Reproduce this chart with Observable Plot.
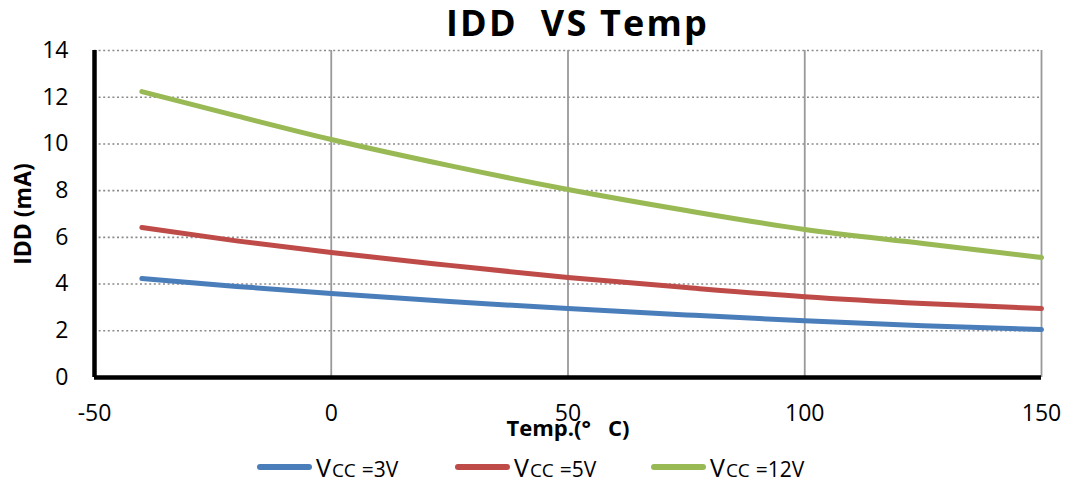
<!DOCTYPE html>
<html><head><meta charset="utf-8">
<script src="https://cdn.jsdelivr.net/npm/d3@7"></script>
<script src="https://cdn.jsdelivr.net/npm/@observablehq/plot@0.6"></script>
<style>
body{margin:0;background:#fff;font-family:"Open Sans",sans-serif;}
#wrap{position:relative;width:1069px;height:486px;overflow:hidden;}
.ttl text{letter-spacing:2.2px;}
#legend{position:absolute;top:450px;left:0;width:1069px;height:34px;}
.li{position:absolute;top:0;display:flex;align-items:center;height:34px;color:#000;white-space:pre;}
.sw{display:inline-block;width:55px;height:6px;border-radius:3px;margin-right:4px;}
.v{font-size:25px;}
.cc{font-size:19px;position:relative;top:3px;margin-left:1px;}
.eq{font-size:21px;position:relative;top:2px;margin-left:6px;}
</style></head>
<body><div id="wrap"></div>
<script>
const temps = [-40, -20, 0, 25, 50, 75, 100, 125, 150];
const vcc3 = [4.24, 3.9, 3.6, 3.25, 2.95, 2.68, 2.43, 2.22, 2.05];
const vcc5 = [6.42, 5.85, 5.35, 4.8, 4.28, 3.85, 3.46, 3.17, 2.95];
const vcc12 = [12.24, 11.2, 10.19, 9.07, 8.05, 7.15, 6.34, 5.74, 5.14];
const seriesNames = ["VCC =3V", "VCC =5V", "VCC =12V"];
const seriesColors = ["#4A7EBB", "#BE4B48", "#98B954"];
const xTicks = [-50, 0, 50, 100, 150];
const yTicks = [0, 2, 4, 6, 8, 10, 12, 14];
const titleText = "IDD\u00a0\u00a0VS Temp";

const allSeries = [vcc3, vcc5, vcc12];
const data = [];
allSeries.forEach((vals, si) => vals.forEach((v, i) => data.push({t: temps[i], idd: v, s: seriesNames[si]})));

const font = '"Open Sans", sans-serif';
const chart = Plot.plot({
  width: 1069, height: 486,
  marginLeft: 94, marginRight: 28, marginTop: 50, marginBottom: 109,
  style: {fontFamily: font, fontSize: "23px", color: "#000", background: "#fff"},
  x: {domain: [-50, 150], ticks: xTicks, label: null},
  y: {domain: [0, 14], ticks: yTicks, label: null},
  color: {domain: seriesNames, range: seriesColors},
  marks: [
    Plot.ruleY(yTicks.filter(d => d > 0), {stroke: "#8a8a8a", strokeWidth: 1.6, strokeDasharray: "2,2.6"}),
    Plot.ruleX(xTicks.filter(d => d > -50), {stroke: "#999", strokeWidth: 1.8}),
    Plot.axisY({ticks: yTicks, tickSize: 0, tickPadding: 26, fontSize: 23, label: null, tickFormat: d => String(d)}),
    Plot.axisX({ticks: xTicks, tickSize: 0, tickPadding: 27, fontSize: 23, label: null, tickFormat: d => String(d)}),
    Plot.line(data, {x: "t", y: "idd", stroke: "s", strokeWidth: 5, curve: "monotone-x", strokeLinecap: "round"}),
    Plot.ruleX([-50], {stroke: "#000", strokeWidth: 4.5}),
    Plot.ruleY([0], {stroke: "#000", strokeWidth: 4.5}),
    Plot.text([titleText], {frameAnchor: "top", dx: 9.5, dy: -26, fontWeight: "bold", fontSize: 36, lineAnchor: "middle", className: "ttl"}),
    Plot.text(["Temp.(°\u00a0\u00a0\u00a0C)"], {frameAnchor: "bottom", dy: 51, dx: 0, fontWeight: "bold", fontSize: 22, lineAnchor: "middle"}),
    Plot.text(["IDD (mA)"], {frameAnchor: "left", dx: -71, rotate: -90, textAnchor: "middle", fontWeight: "bold", fontSize: 23})
  ]
});
const wrap = document.getElementById("wrap");
wrap.appendChild(chart);
const legend = document.createElement("div");
legend.id = "legend";
const lefts = [257, 455, 651];
seriesNames.forEach((name, i) => {
  const li = document.createElement("div");
  li.className = "li"; li.style.left = lefts[i] + "px";
  const sw = document.createElement("span"); sw.className = "sw"; sw.style.background = seriesColors[i];
  li.appendChild(sw);
  const v = document.createElement("span"); v.className = "v"; v.textContent = "V";
  const cc = document.createElement("span"); cc.className = "cc"; cc.textContent = "CC";
  const eq = document.createElement("span"); eq.className = "eq"; eq.textContent = name.slice(4);
  li.appendChild(v); li.appendChild(cc); li.appendChild(eq);
  legend.appendChild(li);
});
wrap.appendChild(legend);
</script></body></html>
